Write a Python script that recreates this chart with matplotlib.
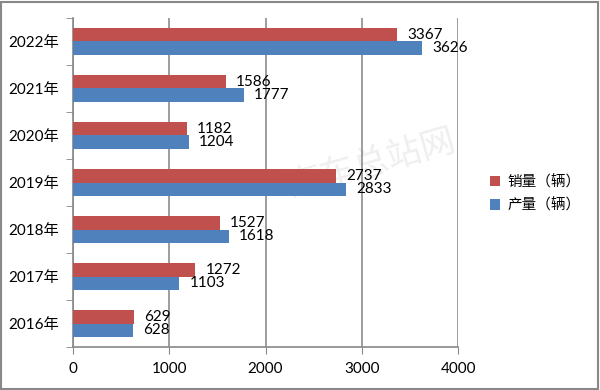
import matplotlib
matplotlib.use('Agg')
import matplotlib.pyplot as plt
from matplotlib.patches import Rectangle
import numpy as np

years = ['2016年', '2017年', '2018年', '2019年', '2020年', '2021年', '2022年']
sales = [629, 1272, 1527, 2737, 1182, 1586, 3367]
production = [628, 1103, 1618, 2833, 1204, 1777, 3626]
xticks = [0, 1000, 2000, 3000, 4000]

RED = '#C0504D'
BLUE = '#4F81BD'
FONTS = ['Lato', 'Noto Sans CJK SC', 'DejaVu Sans']

plt.rcParams['font.family'] = FONTS


def plot_data():
    """Draw the grouped horizontal bar chart."""

    fig = plt.figure(figsize=[6, 3.9], dpi=100)
    ax = fig.add_axes([0.1217, 0.110, 0.6417, 0.844])

    y = np.arange(len(years))
    h = 0.29
    ax.barh(y + h / 2, sales, height=h, color=RED, label='销量（辆）', zorder=3)
    ax.barh(y - h / 2, production, height=h, color=BLUE, label='产量（辆）', zorder=3)

    for yi, s, p in zip(y, sales, production):
        ax.text(s + 105, yi + h / 2, str(s), va='center', ha='left',
                fontsize=11, color='#000000', zorder=4)
        ax.text(p + 105, yi - h / 2, str(p), va='center', ha='left',
                fontsize=11, color='#000000', zorder=4)

    ax.set_xlim(0, 4000)
    ax.set_ylim(-0.5, len(years) - 0.5)
    ax.set_xticks(xticks)
    ax.set_xticklabels([str(v) for v in xticks], fontsize=11)
    ax.set_yticks(y)
    ax.set_yticklabels(years, fontsize=11)
    ax.set_yticks(np.arange(-0.5, len(years)), minor=True)
    ax.tick_params(axis='y', which='major', length=0, pad=10)
    ax.tick_params(axis='y', which='minor', length=5, color='#888888', direction='out')
    ax.tick_params(axis='x', length=5, color='#888888', pad=6)

    ax.grid(axis='x', color='#8c8c8c', linewidth=1.2, zorder=0)
    for side in ['top', 'right']:
        ax.spines[side].set_visible(False)
    for side in ['left', 'bottom']:
        ax.spines[side].set_color('#888888')
        ax.spines[side].set_linewidth(1.2)

    fig.legend(loc='center left', bbox_to_anchor=(0.795, 0.503),
               frameon=False, fontsize=10.5, handlelength=0.7,
               handleheight=0.7, handletextpad=0.5, labelspacing=0.6)

    # watermark, behind the bars
    ax.text(0.62, 0.58, '汽车总站网', fontsize=25, color='#efefef',
            rotation=16, ha='center', va='center', zorder=1,
            transform=fig.transFigure, family=['Noto Sans CJK SC'])

    fig.patches.append(Rectangle((0.002, 0.003), 0.995, 0.993,
                                 transform=fig.transFigure, fill=False,
                                 edgecolor='#888888', linewidth=1.5))
    return fig


fig = plot_data()
fig.savefig('out.png', dpi=100)
